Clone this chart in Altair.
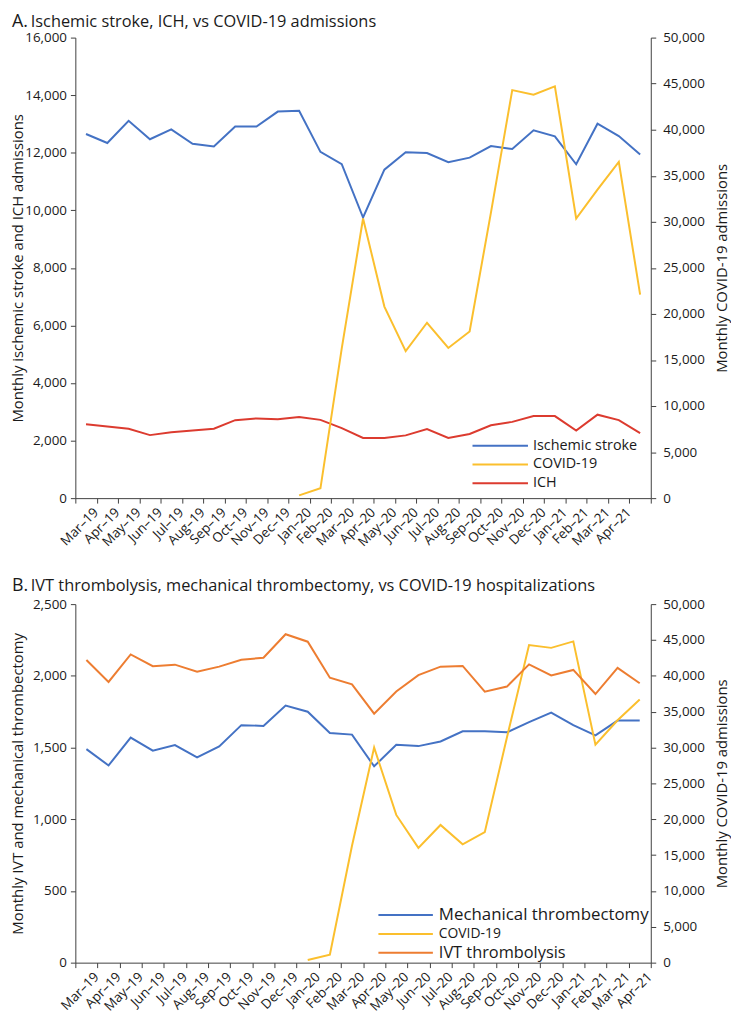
import altair as alt
import pandas as pd

FONT = "Open Sans"
TXT = "#1a1a1a"
AX = "#404040"
BLUE = "#4472C4"
YELLOW = "#FBBF2D"
RED = "#DC3B2F"
ORANGE = "#ED7D31"

# ---------------- data ----------------
months = ["Mar–19", "Apr–19", "May–19", "Jun–19", "Jul–19", "Aug–19", "Sep–19",
          "Oct–19", "Nov–19", "Dec–19", "Jan–20", "Feb–20", "Mar–20", "Apr–20",
          "May–20", "Jun–20", "Jul–20", "Aug–20", "Sep–20", "Oct–20", "Nov–20",
          "Dec–20", "Jan–21", "Feb–21", "Mar–21", "Apr–21", "May–21"]
months_a = months            # panel A has one extra, unlabeled month at the end
months_b = months[:26]
covid_start = "Jan–20"

ischemic = [12650, 12340, 13110, 12470, 12810, 12310, 12220, 12910, 12910, 13430,
            13460, 12030, 11600, 9750, 11410, 12020, 11990, 11670, 11830, 12230,
            12130, 12780, 12570, 11600, 13010, 12580, 11940]
ich = [2570, 2490, 2410, 2190, 2290, 2350, 2410, 2710, 2770, 2740, 2820, 2720,
       2430, 2090, 2090, 2180, 2400, 2090, 2230, 2530, 2650, 2850, 2850, 2350,
       2900, 2710, 2260]
covid_a = [300, 1070, 16250, 30360, 20800, 15960, 19040, 16300, 18100, 31000,
           44300, 43800, 44700, 30360, 33500, 36500, 22100]

ivt = [2110, 1957, 2149, 2067, 2078, 2028, 2064, 2112, 2126, 2290, 2238, 1987,
       1941, 1736, 1891, 2005, 2064, 2069, 1889, 1925, 2080, 2003, 2041, 1873,
       2055, 1948]
thrombectomy = [1489, 1375, 1569, 1478, 1517, 1432, 1508, 1656, 1651, 1793, 1750,
                1601, 1590, 1369, 1519, 1510, 1542, 1613, 1613, 1606, 1677, 1743,
                1656, 1585, 1688, 1688]
covid_b = [360, 1100, 16300, 30000, 20600, 16000, 19200, 16500, 18200, 31400,
           44300, 43900, 44800, 30400, 33800, 36700]

legend_a = ["Ischemic stroke", "COVID-19", "ICH"]
legend_b = ["Mechanical thrombectomy", "COVID-19", "IVT thrombolysis"]

title_a = ["A.", "Ischemic stroke, ICH, vs COVID-19 admissions"]
title_b = ["B.", "IVT thrombolysis, mechanical thrombectomy, vs COVID-19 hospitalizations"]

ytitle_a = "Monthly ischemic stroke and ICH admissions"
ytitle_b = "Monthly IVT and mechanical thrombectomy"
ytitle_right = "Monthly COVID-19 admissions"

left_ticks_a = list(range(0, 16001, 2000))
left_ticks_b = list(range(0, 2501, 500))
right_ticks = list(range(0, 50001, 5000))

# ---------------- tables ----------------
s = months.index(covid_start)
df_a = pd.DataFrame({"month": months_a, "ischemic": ischemic, "ich": ich})
df_ca = pd.DataFrame({"month": months_a[s:s + len(covid_a)], "covid": covid_a})
df_b = pd.DataFrame({"month": months_b, "ivt": ivt, "mt": thrombectomy})
df_cb = pd.DataFrame({"month": months_b[s:s + len(covid_b)], "covid": covid_b})

W = 581
HA = 465
HB = 362


def x_enc(domain, blank_last=False):
    ax = dict(title=None, labelAngle=315, labelAlign="right", labelBaseline="top",
              labelOffset=5, labelPadding=2, labelFontSize=13.5, labelFont=FONT,
              labelColor=TXT, labelOverlap=False, labelFlush=False,
              tickBand="extent", tickSize=5, tickColor=AX, domainColor=AX,
              grid=False)
    if blank_last:
        ax["labelExpr"] = "datum.value == '" + domain[-1] + "' ? '' : datum.value"
    return alt.X("month:O", sort=domain,
                 scale=alt.Scale(type="band", domain=domain, paddingInner=0,
                                 paddingOuter=0),
                 axis=alt.Axis(**ax), bandPosition=0.5)


def y_axis_left(title, values, h):
    return alt.Axis(title=title, values=values, format=",.0f", tickSize=5,
                    labelPadding=4, labelFontSize=13.5, labelFont=FONT,
                    labelColor=TXT, tickColor=AX, domainColor=AX, grid=False,
                    titleFont=FONT, titleFontSize=15, titleFontWeight="normal",
                    titleColor=TXT, titleAngle=270, titleBaseline="alphabetic",
                    titleAlign="center", titleX=-53, titleY=h / 2)


def y_axis_right(h):
    return alt.Axis(title=ytitle_right, orient="right", values=right_ticks,
                    format=",.0f", tickSize=5, labelPadding=7, labelFontSize=13.5,
                    labelFont=FONT, labelColor=TXT, tickColor=AX, domainColor=AX,
                    grid=False, titleFont=FONT, titleFontSize=15,
                    titleFontWeight="normal", titleColor=TXT, titleAngle=270,
                    titleBaseline="alphabetic", titleAlign="center", titleX=76,
                    titleY=h / 2)


def legend_layers(names, colors, sizes, x0, x1, tx, y0, dy):
    layers = []
    for i, (n, c, fs) in enumerate(zip(names, colors, sizes)):
        d = pd.DataFrame({"name": [n]})
        layers.append(alt.Chart(d).mark_rule(color=c, strokeWidth=2).encode(
            x=alt.value(x0), x2=alt.value(x1), y=alt.value(y0 + i * dy)))
        layers.append(alt.Chart(d).mark_text(
            align="left", baseline="middle", font=FONT, fontSize=fs, color=TXT
        ).encode(x=alt.value(tx), y=alt.value(y0 + i * dy), text="name:N"))
    return layers


def title_layers(parts, y):
    d1 = pd.DataFrame({"t": [parts[0]]})
    d2 = pd.DataFrame({"t": [parts[1]]})
    return [
        alt.Chart(d1).mark_text(align="left", baseline="alphabetic", font=FONT,
                                fontSize=18, color=TXT).encode(
            x=alt.value(-64), y=alt.value(y), text="t:N"),
        alt.Chart(d2).mark_text(align="left", baseline="alphabetic", font=FONT,
                                fontSize=16.5, color=TXT).encode(
            x=alt.value(-45), y=alt.value(y), text="t:N"),
    ]


# ---------------- panel A ----------------
xa = x_enc(months_a, blank_last=True)
ya_scale = alt.Scale(domain=[0, 16000])
a_isch = alt.Chart(df_a).mark_line(color=BLUE, strokeWidth=2).encode(
    x=xa, y=alt.Y("ischemic:Q", scale=ya_scale,
                  axis=y_axis_left(ytitle_a, left_ticks_a, HA)))
a_ich = alt.Chart(df_a).mark_line(color=RED, strokeWidth=2).encode(
    x=xa, y=alt.Y("ich:Q", scale=ya_scale, axis=None))
a_cov = alt.Chart(df_ca).mark_line(color=YELLOW, strokeWidth=2).encode(
    x=xa, y=alt.Y("covid:Q", scale=alt.Scale(domain=[0, 50000]),
                  axis=y_axis_right(HA)))

panel_a = alt.layer(
    a_isch, a_ich, a_cov,
    *legend_layers(legend_a, [BLUE, YELLOW, RED], [14.5, 14.5, 14.5],
                   401, 457, 462, 412, 19),
    *title_layers(title_a, -11),
).resolve_scale(y="independent").properties(width=W, height=HA)

# ---------------- panel B ----------------
xb = x_enc(months_b)
yb_scale = alt.Scale(domain=[0, 2500])
b_mt = alt.Chart(df_b).mark_line(color=BLUE, strokeWidth=2).encode(
    x=xb, y=alt.Y("mt:Q", scale=yb_scale,
                  axis=y_axis_left(ytitle_b, left_ticks_b, HB)))
b_ivt = alt.Chart(df_b).mark_line(color=ORANGE, strokeWidth=2).encode(
    x=xb, y=alt.Y("ivt:Q", scale=yb_scale, axis=None))
b_cov = alt.Chart(df_cb).mark_line(color=YELLOW, strokeWidth=2).encode(
    x=xb, y=alt.Y("covid:Q", scale=alt.Scale(domain=[0, 50000]),
                  axis=y_axis_right(HB)))

panel_b = alt.layer(
    b_mt, b_cov, b_ivt,
    *legend_layers(legend_b, [BLUE, YELLOW, ORANGE], [17, 14, 16.5],
                   306, 361, 367, 314, 19),
    *title_layers(title_b, -13),
).resolve_scale(y="independent").properties(width=W, height=HB)

chart = alt.vconcat(panel_a, panel_b, spacing=107, bounds="flush").properties(
    autosize=alt.AutoSizeParams(type="pad"),
    padding={"left": 2, "top": 0, "right": 2, "bottom": 0},
).configure_view(stroke=None)

chart.save("out.html", embed_options={"renderer": "svg", "actions": False})
